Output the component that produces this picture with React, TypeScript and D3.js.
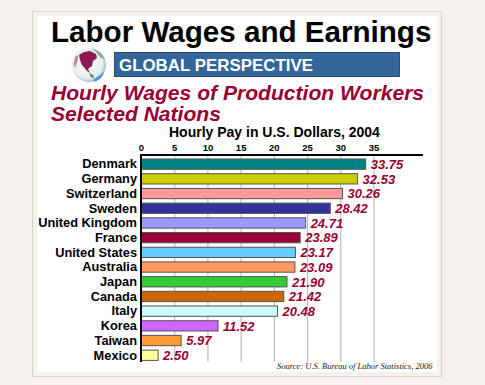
import React from "react";
import * as d3 from "d3";

const countries = ["Denmark","Germany","Switzerland","Sweden","United Kingdom","France","United States","Australia","Japan","Canada","Italy","Korea","Taiwan","Mexico"];
const wages = [33.75,32.53,30.26,28.42,24.71,23.89,23.17,23.09,21.90,21.42,20.48,11.52,5.97,2.50];
const barColors = ["#008080","#cccc00","#ff9999","#333399","#9999ff","#990033","#66ccff","#ff9966","#33cc33","#cc6600","#ccffff","#cc66ff","#ff9933","#ffff99"];
const xTicks = [0,5,10,15,20,25,30,35];

const SANS = "'Liberation Sans', Arial, sans-serif";
const RED = "#990033";

export default function App() {
  const x = d3.scaleLinear().domain([0, 35]).range([141.5, 374]);
  const y = d3.scaleBand().domain(countries).range([156.8, 362.6]).paddingInner(0.3).paddingOuter(0.15);
  return (
    <svg width={485} height={385} style={{ position: "absolute", left: 0, top: 0 }} fontFamily={SANS}>
      <defs>
        <radialGradient id="glob" cx="0.45" cy="0.45" r="0.6">
          <stop offset="0" stopColor="#ffffff" />
          <stop offset="0.75" stopColor="#e3eeee" />
          <stop offset="1" stopColor="#8fa8a8" />
        </radialGradient>
      </defs>
      <rect width={485} height={385} fill="#f5f2ed" />
      <rect x={32.5} y={11.5} width={409} height={365} fill="#f5f2ed" stroke="#d5d1cb" />
      <rect x={37} y={16} width={400} height={356} fill="#fff" />

      <text x={51} y={41.5} fontSize={29.6} fontWeight="bold" fill="#000">Labor Wages and Earnings</text>

      <circle cx={89} cy={65} r={17} fill="url(#glob)" />
      <path d="M92 48.5 C98 50 103 54 105 60 L100 57 L96 52 Z" fill="#7fb08a" />
      <path d="M79 55 L84 52 L90 51 L96 54 L97 58 L93 61 L92 66 L88 69 L90 73 L87 71 L82 65 L80 60 Z" fill="#8c1c50" />
      <path d="M89 73 L93 75 L94 78 L91 77 Z" fill="#3a8a4a" />
      <path d="M93 80 C97 77 102 74 104 72 C103 77 99 81 94 81.5 Z" fill="#4f8fd0" />
      <path d="M75 57 L78 55 L78 60 L75 68 L73.5 64 Z" fill="#c98a80" />

      <rect x={114.5} y={52.5} width={285} height={24} fill="#336699" stroke="#2b4f70" />
      <text x={119} y={70.5} fontSize={16.9} fontWeight="bold" fill="#fff">GLOBAL PERSPECTIVE</text>

      <text x={51} y={99.5} fontSize={21.1} fontWeight="bold" fontStyle="italic" fill={RED}>Hourly Wages of Production Workers</text>
      <text x={51} y={120.5} fontSize={21.1} fontWeight="bold" fontStyle="italic" fill={RED}>Selected Nations</text>

      <text x={169} y={137} fontSize={14} fontWeight="bold" fill="#000">Hourly Pay in U.S. Dollars, 2004</text>

      {xTicks.map(t => (
        <g key={t}>
          {t > 0 && <line x1={x(t)} x2={x(t)} y1={155} y2={362} stroke="#bdbdbd" strokeWidth={1.2} />}
          <text x={x(t)} y={151} textAnchor="middle" fontSize={9.5} fontWeight="bold" fill="#000">{t}</text>
        </g>
      ))}

      {countries.map((c, i) => (
        <g key={c}>
          <rect x={x(0)} y={y(c)!} width={x(wages[i]) - x(0)} height={y.bandwidth()} fill={barColors[i]} stroke="#555" strokeWidth={1} />
          <text x={137} y={y(c)! + y.bandwidth() / 2 + 4.3} textAnchor="end" fontSize={12.8} fontWeight="bold" fill="#000">{c}</text>
          <text x={x(wages[i]) + 5} y={y(c)! + y.bandwidth() / 2 + 4.8} fontSize={13} fontWeight="bold" fontStyle="italic" fill={RED}>{wages[i].toFixed(2)}</text>
        </g>
      ))}

      <line x1={141} x2={423} y1={155} y2={155} stroke="#000" strokeWidth={2} />
      <line x1={141} x2={141} y1={154} y2={362} stroke="#000" strokeWidth={2} />

      <text x={277} y={369} fontSize={8.5} fontStyle="italic" fontFamily="'Liberation Serif', serif" fill="#222">Source: U.S. Bureau of Labor Statistics, 2006</text>
    </svg>
  );
}
